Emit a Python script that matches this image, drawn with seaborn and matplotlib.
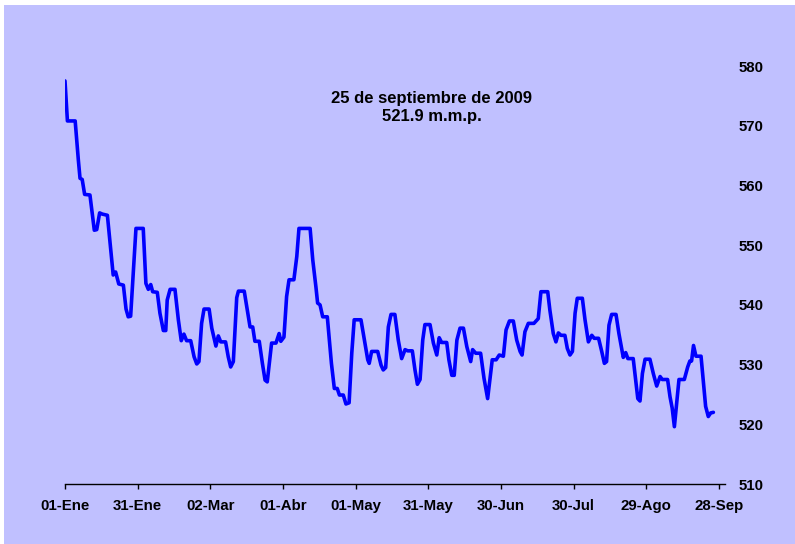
import matplotlib
matplotlib.use("Agg")
import matplotlib.pyplot as plt
from matplotlib.patches import Rectangle
import pandas as pd
import seaborn as sns

# days since 01-Ene-2009 and level (m.m.p.)
dias = [
    0, 1.0, 4.2, 5.5, 6.2, 7.1, 8.1, 10.3, 12.1, 13.1,
    14.3, 15.4, 17.5, 18.9, 19.9, 20.9, 22.2, 24.1, 25.2, 26.1,
    27.1, 29.3, 32.3, 33.4, 34.4, 35.4, 36.2, 38.1, 39.2, 40.6,
    41.6, 42.2, 43.4, 45.4, 46.8, 48.0, 49.1, 50.2, 51.9, 53.3,
    54.4, 55.3, 56.4, 57.4, 59.5, 60.6, 62.3, 63.3, 64.3, 66.3,
    67.4, 68.4, 69.5, 70.9, 71.6, 74.0, 75.3, 76.4, 77.5, 78.4,
    80.2, 81.5, 82.6, 83.5, 85.3, 87.1, 88.4, 89.1, 90.4, 91.5,
    92.5, 94.5, 95.7, 96.6, 101.2, 102.3, 103.6, 104.3, 105.3, 106.4,
    108.3, 110.0, 111.2, 112.4, 113.3, 114.9, 116.0, 117.3, 118.4, 119.4,
    122.2, 123.6, 125.0, 125.6, 126.6, 129.1, 130.5, 131.4, 132.4, 133.5,
    134.6, 136.2, 137.6, 139.0, 140.4, 141.5, 143.4, 144.5, 145.5, 146.6,
    147.7, 148.6, 150.7, 152.1, 153.5, 154.5, 155.5, 157.6, 158.5, 159.7,
    160.7, 161.8, 163.1, 164.5, 165.9, 167.5, 168.3, 169.6, 171.6, 173.0,
    174.5, 176.4, 178.0, 179.3, 181.0, 182.1, 183.5, 185.1, 186.5, 187.9,
    188.7, 189.9, 191.3, 193.6, 195.4, 196.5, 199.3, 200.2, 201.6, 202.7,
    203.7, 204.8, 206.4, 207.4, 208.5, 209.5, 210.6, 211.5, 213.6, 214.7,
    216.1, 217.5, 218.5, 220.3, 221.6, 222.7, 223.6, 224.6, 225.7, 227.5,
    228.7, 230.5, 231.5, 232.4, 234.6, 235.6, 236.5, 237.4, 238.4, 239.5,
    241.5, 242.9, 244.3, 245.7, 246.6, 248.8, 249.8, 250.7, 251.6, 253.5,
    255.7, 257.1, 258.0, 258.7, 259.5, 260.5, 262.6, 264.5, 265.6, 266.6,
    267.7,
]
nivel = [
    577.5, 570.8, 570.8, 564.3, 561.2, 561.0, 558.5, 558.4, 552.5, 552.6,
    555.4, 555.2, 555.0, 549.2, 545.0, 545.5, 543.5, 543.3, 539.3, 538.0,
    538.1, 552.8, 552.8, 543.6, 542.6, 543.4, 542.2, 542.1, 538.6, 535.7,
    535.7, 540.8, 542.6, 542.6, 537.5, 534.0, 535.1, 534.0, 534.0, 531.3,
    530.1, 530.5, 536.9, 539.3, 539.3, 536.1, 533.1, 534.8, 533.8, 533.8,
    531.3, 529.6, 530.5, 541.2, 542.3, 542.3, 539.1, 536.3, 536.3, 533.9,
    533.9, 530.2, 527.4, 527.1, 533.6, 533.6, 535.2, 533.9, 534.6, 541.4,
    544.2, 544.2, 548.1, 552.8, 552.8, 547.5, 543.0, 540.3, 540.0, 538.0,
    538.0, 530.2, 526.0, 526.0, 524.9, 524.9, 523.4, 523.6, 531.9, 537.5,
    537.5, 534.1, 530.8, 530.2, 532.2, 532.2, 529.9, 529.1, 529.5, 536.3,
    538.4, 538.4, 534.1, 531.0, 532.5, 532.3, 532.3, 529.1, 526.7, 527.5,
    534.1, 536.7, 536.7, 533.6, 531.6, 534.5, 533.7, 533.7, 530.8, 528.2,
    528.2, 534.1, 536.1, 536.1, 533.0, 530.5, 532.5, 531.9, 531.9, 527.7,
    524.3, 530.8, 530.8, 531.6, 531.4, 535.8, 537.3, 537.3, 534.1, 532.2,
    531.6, 535.5, 536.9, 536.9, 537.7, 542.2, 542.2, 539.1, 535.2, 533.8,
    535.3, 534.9, 534.9, 532.7, 531.6, 532.2, 538.6, 541.1, 541.1, 537.5,
    533.8, 534.9, 534.4, 534.4, 532.2, 530.2, 530.5, 536.6, 538.4, 538.4,
    535.2, 531.2, 532.0, 531.0, 531.0, 527.4, 524.3, 523.9, 528.5, 530.9,
    530.9, 528.5, 526.4, 528.0, 527.5, 527.5, 524.6, 522.7, 519.6, 527.5,
    527.5, 529.6, 530.6, 530.6, 533.2, 531.4, 531.4, 523.0, 521.3, 521.9,
    522.0,
]

tick_dias = [0, 30, 60, 90, 120, 150, 180, 210, 240, 270]
tick_labels = ["01-Ene", "31-Ene", "02-Mar", "01-Abr", "01-May",
               "31-May", "30-Jun", "30-Jul", "29-Ago", "28-Sep"]
y_ticks = [510, 520, 530, 540, 550, 560, 570, 580]

fecha_txt = "25 de septiembre de 2009"
valor_txt = "521.9 m.m.p."

bg = "#c0c0ff"

sns.set_style("white")
plt.rcParams["font.family"] = ["Liberation Sans", "DejaVu Sans"]

df = pd.DataFrame({"dia": dias, "nivel": nivel})

fig = plt.figure(figsize=(7.95, 5.44), dpi=100, facecolor="white")
fig.patches.append(Rectangle((4 / 795, 0), 1, 1 - 5 / 544, transform=fig.transFigure,
                             facecolor=bg, edgecolor="none", zorder=-10))
ax = fig.add_axes([65 / 795, 60 / 544, 660 / 795, 418 / 544])
ax.set_facecolor("none")

sns.lineplot(data=df, x="dia", y="nivel", ax=ax, color="#0000ff", linewidth=2.6,
             solid_joinstyle="round", solid_capstyle="round")

ax.set_xlim(0, 272.5)
ax.set_ylim(510, 580)
ax.set_xticks(tick_dias)
ax.set_xticklabels(tick_labels, fontsize=10.8, fontweight="bold", color="black")
ax.set_yticks(y_ticks)
ax.set_yticklabels([str(v) for v in y_ticks], fontsize=10.8, fontweight="bold", color="black")
ax.yaxis.tick_right()
ax.tick_params(axis="y", length=0, pad=10)
ax.tick_params(axis="x", bottom=True, direction="out", length=3.5, width=1,
               color="black", pad=7)
ax.set_xlabel("")
ax.set_ylabel("")

for s in ["top", "left", "right"]:
    ax.spines[s].set_visible(False)
ax.spines["bottom"].set_color("black")
ax.spines["bottom"].set_linewidth(1)

ax.text(151.5, 574.6, fecha_txt, ha="center", va="center", fontsize=12,
        fontweight="bold", color="black")
ax.text(151.5, 571.5, valor_txt, ha="center", va="center", fontsize=12,
        fontweight="bold", color="black")

plt.savefig("out.png", dpi=100, facecolor="white")
plt.close()
